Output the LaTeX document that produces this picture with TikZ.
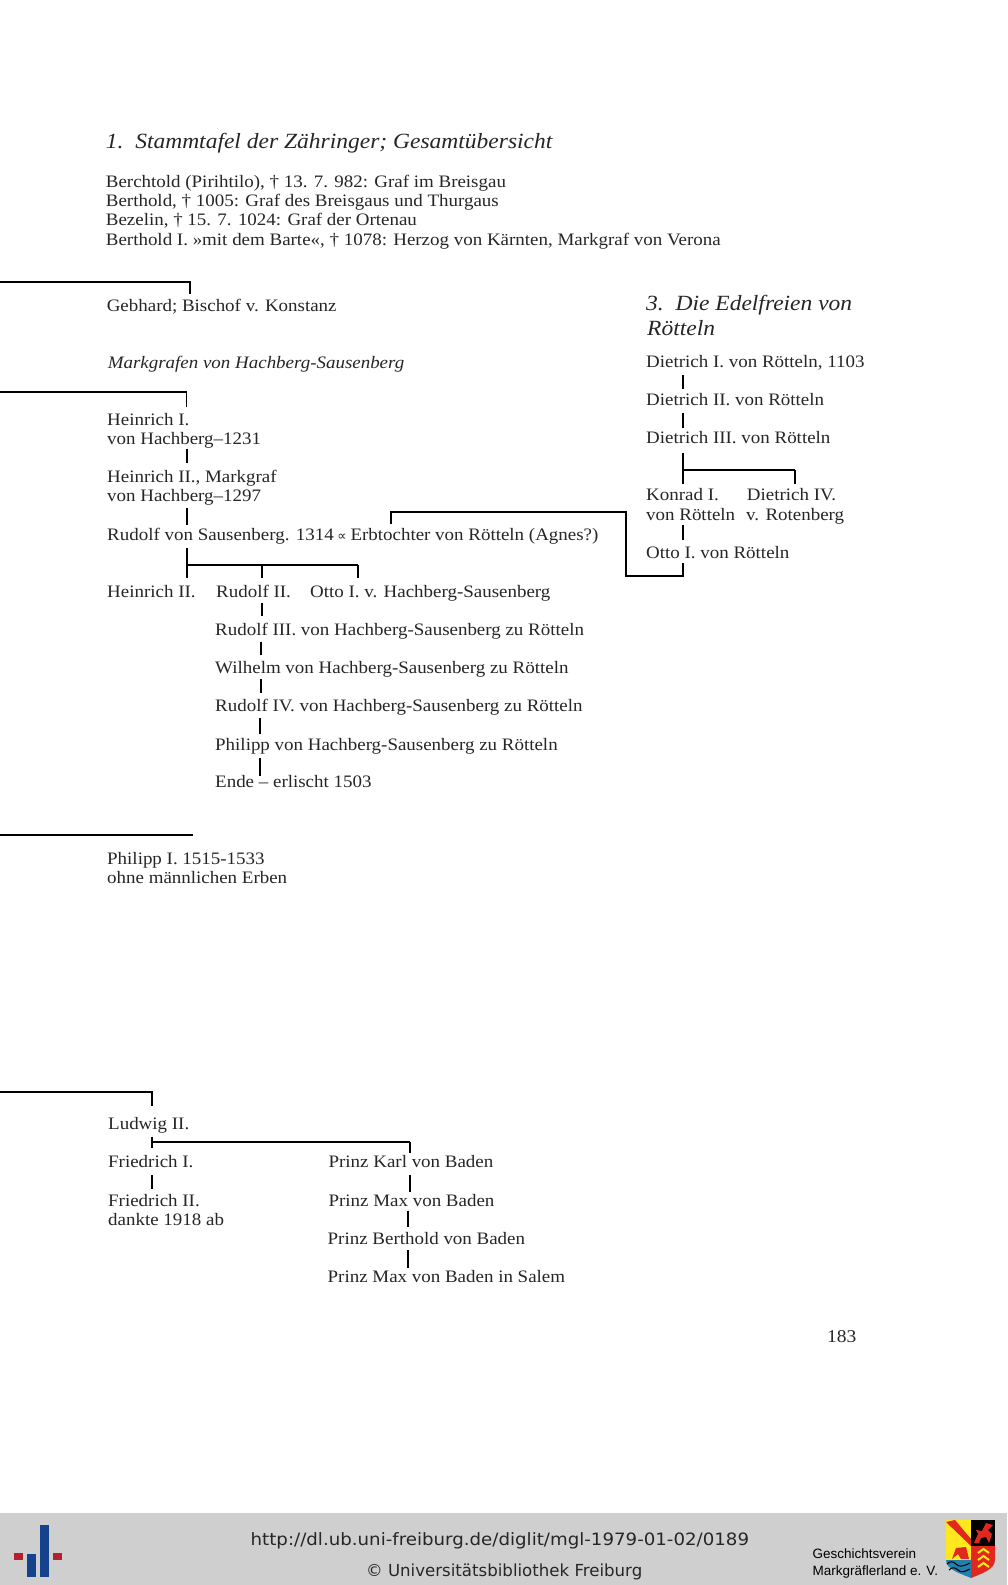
\documentclass[tikz,border=0pt]{standalone}
\usepackage{fontspec}
\setmainfont[FakeStretch=1.083]{Liberation Serif}
\newfontfamily\marryfont{DejaVu Sans}
\newfontfamily\urlfont[FakeStretch=1.07]{DejaVu Sans}
\newfontfamily\footfont{DejaVu Sans}
\newfontfamily\vereinfont{Liberation Sans}
\definecolor{inkgray}{HTML}{262626}
\definecolor{footgray}{HTML}{CFCFCF}
\definecolor{ubblue}{HTML}{14428C}
\definecolor{ubred}{HTML}{B5202E}
\definecolor{armred}{HTML}{E0281E}
\definecolor{armyellow}{HTML}{FFE81E}
\definecolor{armblue}{HTML}{2080B0}
\tikzset{
  person/.style={anchor=base west, inner sep=0pt, text=inkgray, font=\fontsize{17.5}{19}\selectfont},
  heading/.style={anchor=base west, inner sep=0pt, text=inkgray, font=\fontsize{21.7}{25}\selectfont\itshape},
  stem/.style={line width=2pt, black},
  bar/.style={line width=1.7pt, black}
}
\begin{document}
\begin{tikzpicture}[x=1pt, y=-1pt]
   \useasboundingbox (0,0) rectangle (1007,1585);
   \fill[white] (0,0) rectangle (1007,1585);
   % main table
   \node[heading] (titleA) at (105.7,148.3) {1.\ \ Stammtafel der Zähringer; Gesamtübersicht};
   \foreach \id/\xx/\yy/\txt in {
      berA/105.7/187.3/{Berchtold (Pirihtilo), † 13. 7. 982: Graf im Breisgau},
      berB/105.7/206.7/{Berthold, † 1005: Graf des Breisgaus und Thurgaus},
      berC/105.7/225.7/{Bezelin, † 15. 7. 1024: Graf der Ortenau},
      berD/105.7/245/{Berthold I. »mit dem Barte«, † 1078: Herzog von Kärnten, Markgraf von Verona},
      gebh/106.6/311/{Gebhard; Bischof v. Konstanz},
      heinA/107/425/{Heinrich I.},
      hachA/107/444.3/{von Hachberg–1231},
      heinB/107/482.7/{Heinrich II., Markgraf},
      hachB/107/501.7/{von Hachberg–1297},
      rudA/107/540/{Rudolf von Sausenberg. 1314\kern-1pt\ {\marryfont\fontsize{13}{19}\selectfont ∝}\kern-1pt\ Erbtochter von Rötteln (Agnes?)},
      heinC/107/597.3/{Heinrich II.},
      rudB/216/597.3/{Rudolf II.},
      ottoA/310/597.3/{Otto I. v. Hachberg-Sausenberg},
      rudC/215/635.7/{Rudolf III. von Hachberg-Sausenberg zu Rötteln},
      wilh/215/673.3/{Wilhelm von Hachberg-Sausenberg zu Rötteln},
      rudD/215/711.7/{Rudolf IV. von Hachberg-Sausenberg zu Rötteln},
      phil/215/750/{Philipp von Hachberg-Sausenberg zu Rötteln},
      ende/215/787.7/{Ende – erlischt 1503},
      philA/107/864/{Philipp I. 1515-1533},
      ohne/107/883.3/{ohne männlichen Erben},
      ludw/108/1129.3/{Ludwig II.},
      friA/108/1167.3/{Friedrich I.},
      friB/108/1206/{Friedrich II.},
      dank/108/1225/{dankte 1918 ab},
      przA/328.4/1167.3/{Prinz Karl von Baden},
      przB/328.4/1206/{Prinz Max von Baden},
      przC/327.5/1244/{Prinz Berthold von Baden},
      przD/327.5/1282.3/{Prinz Max von Baden in Salem},
      dieA/646/367.3/{Dietrich I. von Rötteln, 1103},
      dieB/646/405/{Dietrich II. von Rötteln},
      dieC/646/443.3/{Dietrich III. von Rötteln},
      konr/646/500.7/{Konrad I.},
      voro/646/520/{von Rötteln},
      dieD/746.7/500.7/{Dietrich IV.},
      rote/746/520/{v. Rotenberg},
      ottoB/646/558.3/{Otto I. von Rötteln}} {
      \node[person] (\id) at (\xx,\yy) {\txt};
   }
   \node[person, font=\fontsize{18}{20}\selectfont] (page) at (827,1342.3) {183};
   \node[person, font=\fontsize{17.5}{19}\selectfont\itshape] (mark) at (107.6,368) {Markgrafen von Hachberg-Sausenberg};
   \node[heading] (titleC) at (646,310) {3.\ \ Die Edelfreien von};
   \node[heading] (titleD) at (647,335) {Rötteln};
   % vertical stems
   \foreach \id/\xx/\ya/\yb in {
      hA/186.5/449/463, hB/186.5/508/525, hC/186.5/548.3/578.3,
      rA/262.4/565/578.3, rB/358/565/578.3, rC/262/603/616, rD/261/641.7/655,
      rE/261/679/693, rF/260/718/734, rG/259.6/758/776,
      dA/683/375/389.3, dB/682.7/412.7/428.3, dC/682.7/453.3/484,
      dD/795.3/470/484, dE/682.7/525/540,
      fA/152.3/1136.7/1148.3, fB/152.3/1175/1189.3,
      pA/409.5/1141.7/1152.7, pB/409.5/1175/1191.7,
      pC/408.3/1210.7/1227.3, pD/407.6/1250/1268.3} {
      \coordinate (\id Top) at (\xx,\ya);
      \coordinate (\id End) at (\xx,\yb);
      \draw[stem] (\id Top) -- (\id End);
   }
   % long branches
   \coordinate (edgeA) at (0,282.3);
   \coordinate (edgeB) at (0,391.7);
   \coordinate (edgeC) at (0,834.7);
   \coordinate (edgeD) at (0,1092.3);
   \coordinate (gebhUp) at (190,294);
   \coordinate (heinUp) at (186.5,406.7);
   \coordinate (philUp) at (192.7,834.7);
   \coordinate (ludwUp) at (152.3,1106);
   \draw[bar] (edgeA) -| (gebhUp);
   \draw[bar] (edgeB) -| (heinUp);
   \draw[bar] (edgeC) -- (philUp);
   \draw[bar] (edgeD) -| (ludwUp);
   \draw[bar] (hCTop |- rATop) -- (rBTop);
   \draw[bar] (dCTop |- dDTop) -- (dDTop);
   \draw[bar] (fATop |- pATop) -- (pATop);
   % marriage link
   \coordinate (agnes) at (390.6,524);
   \coordinate (agnesUp) at (390.6,511.7);
   \coordinate (bendA) at (625.7,511.7);
   \coordinate (bendB) at (625.7,575.7);
   \coordinate (ottoDn) at (682.7,563);
   \coordinate (ottoLo) at (682.7,575.7);
   \draw[stem] (agnes) -- (agnesUp) -- (bendA) -- (bendB) -- (ottoLo) -- (ottoDn);
   % footer
   \fill[footgray] (0,1513) rectangle (1007,1585);
   \fill[ubblue] (40,1525) rectangle (49,1577);
   \fill[ubblue] (26.7,1554) rectangle (35.7,1577);
   \fill[ubred] (14,1553) rectangle (23.3,1560);
   \fill[ubred] (52.7,1553) rectangle (62,1560);
   \node[anchor=base west, inner sep=0pt, text=inkgray, font=\fontsize{17}{19}\urlfont] (url) at (250.5,1545) {http://dl.ub.uni-freiburg.de/diglit/mgl-1979-01-02/0189};
   \node[anchor=base west, inner sep=0pt, text=inkgray, font=\fontsize{16.6}{19}\footfont] (ubfr) at (366,1576) {© Universitätsbibliothek Freiburg};
   \node[anchor=base west, inner sep=0pt, text=black, font=\fontsize{13.5}{15}\vereinfont] (ver) at (812.5,1558) {Geschichtsverein};
   \node[anchor=base west, inner sep=0pt, text=black, font=\fontsize{13.5}{15}\vereinfont] (mgl) at (812.5,1575) {Markgräflerland e. V.};
   % coat of arms
   \fill[armyellow] (946,1520) rectangle (971,1546);
   \fill[armred] (946,1522) -- (955,1520) -- (971,1539) -- (971,1546) -- cycle;
   \fill[black] (971,1520) rectangle (995,1546);
   \fill[armred] (974,1543) -- (978,1534) -- (976,1530) -- (982,1531) -- (986,1523) -- (993,1525) -- (988,1530) -- (992,1534) -- (989,1543) -- (986,1537) -- (981,1538) -- (979,1543) -- cycle;
   \fill[armred] (971,1546) -- (995,1546) -- (995,1560) .. controls (995,1570) and (980,1574) .. (971,1578) -- cycle;
   \fill[armyellow] (946,1546) rectangle (971,1560);
   \fill[armred] (956,1548) -- (966,1547) -- (969,1559) -- (961,1559) -- (958,1554) -- (952,1559) -- cycle;
   \fill[armblue] (946,1560) -- (971,1560) -- (971,1578) .. controls (962,1574) and (946,1570) .. (946,1560) -- cycle;
   \foreach \yy in {1549,1556,1563} {
      \draw[armyellow, line width=2pt] (978,\yy+4) -- (983.5,\yy) -- (989,\yy+4);
   }
   \draw[black, line width=1pt] (947,1564) .. controls (950,1561) and (953,1561) .. (956,1564) .. controls (959,1567) and (962,1567) .. (970,1563);
   \draw[black, line width=1pt] (949,1570) .. controls (952,1567) and (955,1567) .. (958,1570) .. controls (961,1573) and (964,1572) .. (970,1569);
\end{tikzpicture}
\end{document}
